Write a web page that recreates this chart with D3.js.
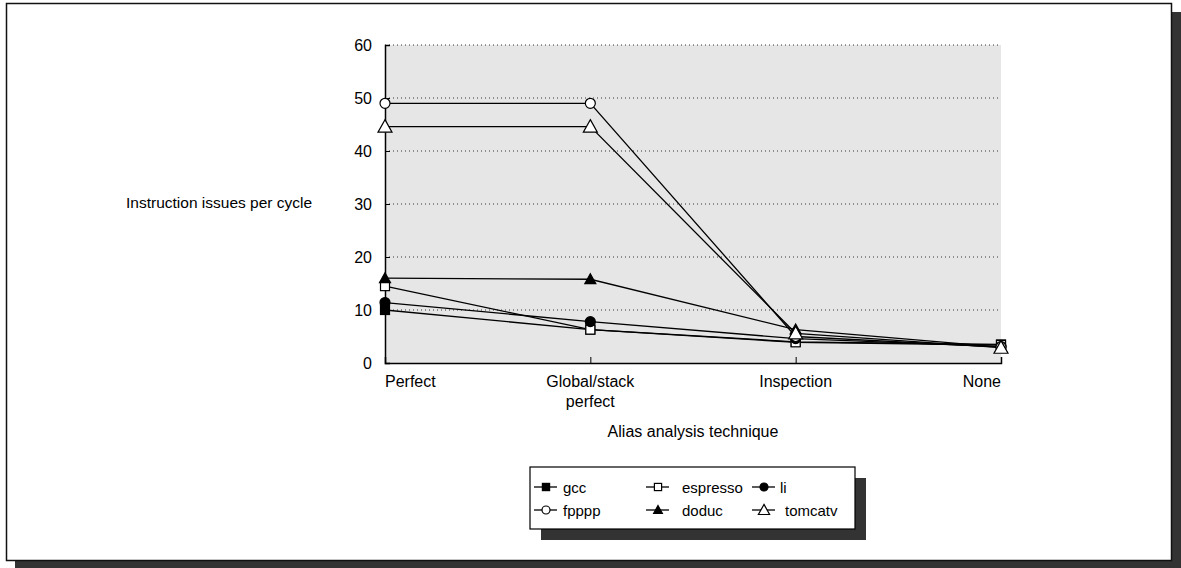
<!DOCTYPE html>
<html>
<head>
<meta charset="utf-8">
<script src="https://cdn.jsdelivr.net/npm/d3@7"></script>
<style>
  body { margin: 0; background: #fff; }
  svg { display: block; font-family: "Liberation Sans", Arial, sans-serif; }
</style>
</head>
<body>
<svg id="chart" width="1181" height="568"></svg>
<script>
const categories = ["Perfect", "Global/stack perfect", "Inspection", "None"];
const yTicks = [0, 10, 20, 30, 40, 50, 60];

const gcc = [10, 6.3, 4, 3.5];
const espresso = [14.5, 6.3, 3.9, 3.4];
const li = [11.4, 7.8, 4.6, 3.1];
const fpppp = [49, 49, 5, 3];
const doduc = [16, 15.8, 6.3, 3];
const tomcatv = [44.6, 44.6, 5.6, 2.9];

const seriesNames = ["gcc", "espresso", "li", "fpppp", "doduc", "tomcatv"];
const seriesValues = [gcc, espresso, li, fpppp, doduc, tomcatv];
const markerShape = ["square", "square", "circle", "circle", "triangle", "triangle"];
const markerFill = ["#000", "#fff", "#000", "#fff", "#000", "#fff"];

const svg = d3.select("#chart");

// page frame with drop shadow
svg.append("rect").attr("x", 15).attr("y", 12).attr("width", 1170).attr("height", 560).attr("fill", "#333");
svg.append("rect").attr("x", 6.5).attr("y", 3.5).attr("width", 1165).attr("height", 557)
  .attr("fill", "#fff").attr("stroke", "#111").attr("stroke-width", 1.5);

const plot = { left: 385, right: 1001, top: 45, bottom: 363 };

const x = d3.scalePoint().domain(categories).range([plot.left, plot.right]);
const y = d3.scaleLinear().domain([0, 60]).range([plot.bottom, plot.top]);

svg.append("rect")
  .attr("x", plot.left).attr("y", plot.top)
  .attr("width", plot.right - plot.left).attr("height", plot.bottom - plot.top)
  .attr("fill", "#e6e6e6");

// dotted gridlines
svg.append("g")
  .selectAll("line")
  .data(yTicks.filter(d => d > 0))
  .join("line")
  .attr("x1", plot.left).attr("x2", plot.right)
  .attr("y1", d => y(d)).attr("y2", d => y(d))
  .attr("stroke", "#333").attr("stroke-width", 1)
  .attr("stroke-dasharray", "1,3");

const yAxis = svg.append("g")
  .attr("transform", `translate(${plot.left},0)`)
  .call(d3.axisLeft(y).tickValues(yTicks).tickSize(-5).tickPadding(13));
yAxis.select(".domain").attr("stroke", "#000").attr("stroke-width", 1.5);
yAxis.selectAll(".tick line").attr("stroke", "#000");
yAxis.selectAll("text").attr("font-size", 16).attr("fill", "#000")
  .attr("font-family", "Liberation Sans, Arial, sans-serif");

const xAxis = svg.append("g")
  .attr("transform", `translate(0,${plot.bottom})`)
  .call(d3.axisBottom(x).tickSize(-6).tickFormat(""));
xAxis.select(".domain").attr("stroke", "#000").attr("stroke-width", 1.5);
xAxis.selectAll(".tick line").attr("stroke", "#000");

// category labels
const catLabels = svg.append("g").attr("font-size", 16);
categories.forEach((c, i) => {
  const anchor = i === 0 ? "start" : i === categories.length - 1 ? "end" : "middle";
  const words = c === "Global/stack perfect" ? ["Global/stack", "perfect"] : [c];
  const t = catLabels.append("text")
    .attr("x", x(c)).attr("y", 387)
    .attr("text-anchor", anchor);
  words.forEach((w, j) => t.append("tspan").attr("x", x(c)).attr("dy", j ? 20 : 0).text(w));
});

svg.append("text")
  .attr("x", 693).attr("y", 437)
  .attr("text-anchor", "middle").attr("font-size", 16)
  .text("Alias analysis technique");

svg.append("text")
  .attr("x", 126).attr("y", 208)
  .attr("font-size", 15.5)
  .text("Instruction issues per cycle");

function drawMarker(g, shape, fill, cx, cy, scale = 1) {
  if (shape === "square") {
    const h = 4.5 * scale;
    g.append("rect").attr("x", cx - h).attr("y", cy - h).attr("width", 2 * h).attr("height", 2 * h)
      .attr("fill", fill).attr("stroke", "#000").attr("stroke-width", 1.2);
  } else if (shape === "circle") {
    g.append("circle").attr("cx", cx).attr("cy", cy).attr("r", 5 * scale)
      .attr("fill", fill).attr("stroke", "#000").attr("stroke-width", 1.2);
  } else {
    const s = (fill === "#000" ? 5.5 : 7) * scale;
    g.append("path")
      .attr("d", `M${cx},${cy - s}L${cx + s},${cy + s * 0.8}L${cx - s},${cy + s * 0.8}Z`)
      .attr("fill", fill).attr("stroke", "#000").attr("stroke-width", 1.2);
  }
}

const line = d3.line()
  .x((d, i) => x(categories[i]))
  .y(d => y(d));

const linesG = svg.append("g");
seriesValues.forEach(vals => {
  linesG.append("path").datum(vals)
    .attr("fill", "none").attr("stroke", "#000").attr("stroke-width", 1.3)
    .attr("d", line);
});
const marksG = svg.append("g");
seriesValues.forEach((vals, k) => {
  vals.forEach((v, i) => drawMarker(marksG, markerShape[k], markerFill[k], x(categories[i]), y(v)));
});

// legend
const legend = { x: 530, y: 467, w: 325, h: 62 };
svg.append("rect").attr("x", legend.x + 11).attr("y", legend.y + 11)
  .attr("width", legend.w).attr("height", legend.h).attr("fill", "#333");
svg.append("rect").attr("x", legend.x).attr("y", legend.y)
  .attr("width", legend.w).attr("height", legend.h)
  .attr("fill", "#fff").attr("stroke", "#000").attr("stroke-width", 1.2);

const colX = [546, 658, 764];
const rowY = [487, 510];
const textX = [[563, 682, 780], [563, 682, 785]];
const lg = svg.append("g");
seriesNames.forEach((name, k) => {
  const r = Math.floor(k / 3), c = k % 3;
  const cx = colX[c], cy = rowY[r];
  lg.append("line").attr("x1", cx - 12).attr("x2", cx + 11).attr("y1", cy).attr("y2", cy)
    .attr("stroke", "#000").attr("stroke-width", 1.3);
  drawMarker(lg, markerShape[k], markerFill[k], cx, cy, 0.8);
  lg.append("text").attr("x", textX[r][c]).attr("y", cy + 6).attr("font-size", 15).text(name);
});
</script>
</body>
</html>
